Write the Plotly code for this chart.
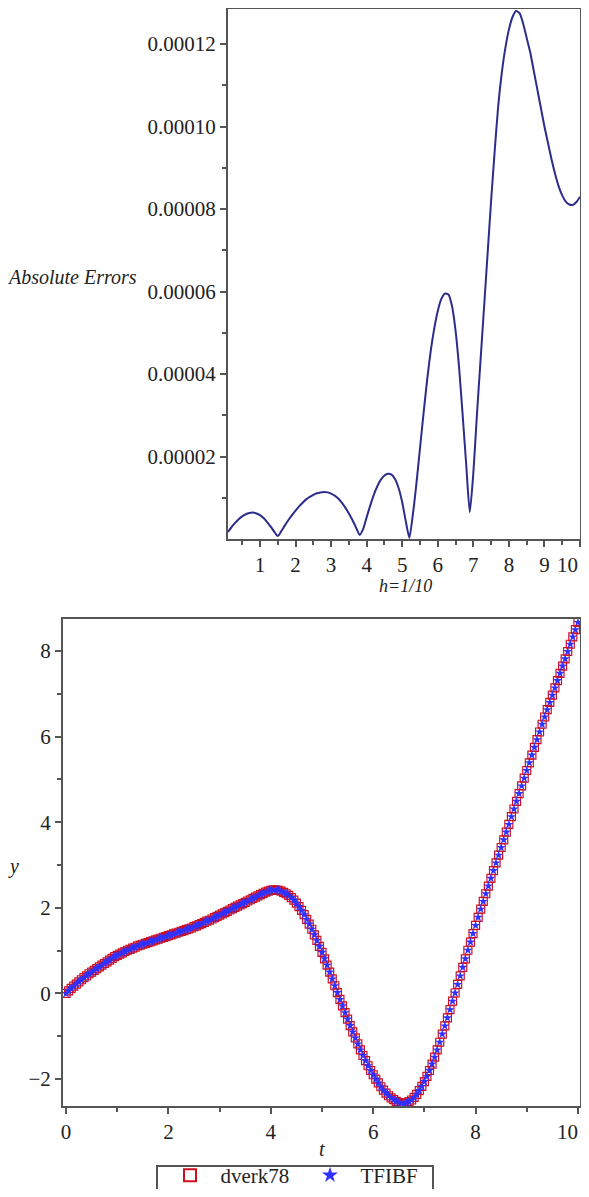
import plotly.graph_objects as go

# ---------------- data ----------------
# Top panel: absolute errors, h = 1/10, t = 0.1 ... 10.0
err_t = [round(0.1 * i, 1) for i in range(1, 101)]
err_vals_e6 = [
    1.7, 2.9, 3.9, 4.8, 5.5, 6.0, 6.3, 6.4, 6.2, 5.8,
    5.1, 4.1, 3.0, 1.8, 0.7, 1.9, 3.3, 4.6, 5.8, 6.9,
    7.9, 8.8, 9.6, 10.2, 10.7, 11.1, 11.3, 11.4, 11.3, 11.0,
    10.5, 9.8, 8.8, 7.6, 6.2, 4.6, 2.8, 1.0, 2.4, 5.3,
    8.1, 10.7, 12.8, 14.4, 15.4, 15.8, 15.6, 14.5, 12.3, 8.9,
    4.3, 0.3, 6.0, 13.5, 22.0, 30.5, 38.5, 45.5, 51.0, 55.3,
    58.2, 59.5, 59.3, 56.5, 50.5, 41.5, 30.0, 18.0, 6.5, 16.0,
    30.0, 43.0, 56.0, 69.0, 82.0, 94.0, 105.0, 113.0, 119.0, 123.5,
    126.5, 128.0, 127.5, 125.0, 121.5, 118.0, 113.5, 109.0, 104.5, 100.0,
    96.0, 92.0, 88.5, 85.5, 83.3, 81.8, 81.1, 81.0, 81.7, 83.0,
]
err_vals = [v * 1e-6 for v in err_vals_e6]
err_tickvals = [0.00002, 0.00004, 0.00006, 0.00008, 0.00010, 0.00012]
err_ticktext = ["0.00002", "0.00004", "0.00006", "0.00008", "0.00010", "0.00012"]
err_xticks = [1, 2, 3, 4, 5, 6, 7, 8, 9, 10]

# Bottom panel: solution y(t), t = 0 ... 10 step 0.05
sol_t = [round(0.05 * i, 2) for i in range(0, 201)]
sol_y = [
    0.00, 0.06, 0.12, 0.17, 0.22, 0.27, 0.32, 0.37, 0.41, 0.46,
    0.50, 0.54, 0.58, 0.62, 0.66, 0.70, 0.74, 0.78, 0.82, 0.86,
    0.89, 0.92, 0.95, 0.98, 1.01, 1.03, 1.06, 1.08, 1.11, 1.13,
    1.15, 1.17, 1.19, 1.21, 1.23, 1.25, 1.27, 1.29, 1.31, 1.33,
    1.35, 1.37, 1.39, 1.41, 1.43, 1.45, 1.47, 1.49, 1.51, 1.53,
    1.56, 1.58, 1.61, 1.63, 1.66, 1.69, 1.71, 1.74, 1.77, 1.80,
    1.83, 1.86, 1.89, 1.92, 1.95, 1.98, 2.01, 2.04, 2.07, 2.10,
    2.13, 2.16, 2.19, 2.22, 2.25, 2.28, 2.31, 2.34, 2.37, 2.39,
    2.41, 2.42, 2.42, 2.41, 2.39, 2.36, 2.33, 2.29, 2.24, 2.18,
    2.11, 2.03, 1.94, 1.84, 1.73, 1.62, 1.50, 1.37, 1.24, 1.10,
    0.96, 0.81, 0.66, 0.50, 0.34, 0.18, 0.02, -0.14, -0.29, -0.45,
    -0.60, -0.75, -0.90, -1.04, -1.18, -1.32, -1.45, -1.57, -1.69, -1.80,
    -1.90, -2.00, -2.09, -2.18, -2.26, -2.33, -2.39, -2.44, -2.48, -2.52,
    -2.55, -2.56, -2.57, -2.56, -2.53, -2.49, -2.43, -2.36, -2.27, -2.17,
    -2.06, -1.94, -1.80, -1.65, -1.49, -1.32, -1.14, -0.95, -0.76, -0.57,
    -0.38, -0.18, 0.01, 0.21, 0.41, 0.61, 0.81, 1.01, 1.20, 1.40,
    1.59, 1.78, 1.97, 2.15, 2.33, 2.51, 2.69, 2.87, 3.05, 3.23,
    3.41, 3.59, 3.77, 3.95, 4.13, 4.31, 4.49, 4.67, 4.85, 5.03,
    5.21, 5.39, 5.57, 5.75, 5.93, 6.11, 6.29, 6.46, 6.63, 6.80,
    6.97, 7.14, 7.31, 7.48, 7.65, 7.82, 7.99, 8.16, 8.33, 8.50,
    8.67,
]
sol_xticks = [0, 2, 4, 6, 8, 10]
sol_yticks = [-2, 0, 2, 4, 6, 8]
legend_names = ["dverk78", "TFIBF"]

# ---------------- figure ----------------
PAGE_W, PAGE_H = 589, 1197
BODY = 8  # default body margin of the html page
W, H = PAGE_W - 2 * BODY, PAGE_H - 2 * BODY
FONT = "Liberation Serif"
AX = "#555555"
TXT = "#222222"
PAD = "\u00a0\u00a0"


def px_x(p):
    return (p - BODY) / W


def px_y(p):
    return 1 - (p - BODY) / H


def dom(a, b):
    return [max(0.0, min(1.0, a)), max(0.0, min(1.0, b))]


# the last x label sits on the right page edge: draw it right-aligned so it stays visible
err_xtext = [str(v) for v in err_xticks[:-1]] + [""]
sol_xtext = [str(v) for v in sol_xticks[:-1]] + [""]

fig = go.Figure()

fig.add_trace(go.Scatter(
    x=err_t, y=err_vals, mode="lines",
    line=dict(color="#2c2c8c", width=2, shape="spline", smoothing=0.6),
    xaxis="x", yaxis="y", showlegend=False, hoverinfo="skip",
))

fig.add_trace(go.Scatter(
    x=sol_t, y=sol_y, mode="markers", name=PAD + legend_names[0],
    marker=dict(symbol="square-open", size=8, color="#d01020", line=dict(width=1.2, color="#d01020")),
    xaxis="x2", yaxis="y2",
))
fig.add_trace(go.Scatter(
    x=sol_t, y=sol_y, mode="markers", name=PAD + legend_names[1],
    marker=dict(symbol="star", size=7, color="#3030ff", line=dict(width=0)),
    xaxis="x2", yaxis="y2",
))

common = dict(showgrid=False, zeroline=False, showline=True, linecolor=AX, linewidth=2,
              mirror=True, ticks="outside", tickcolor=AX, ticklen=6, tickwidth=1.5,
              ticklabeloverflow="allow",
              tickfont=dict(family=FONT, size=21, color=TXT))

fig.update_layout(
    width=W, height=H,
    margin=dict(l=0, r=0, t=0, b=0, autoexpand=False),
    paper_bgcolor="white", plot_bgcolor="white",
    xaxis=dict(domain=dom(px_x(228), px_x(580)), range=[0.1, 10], anchor="y",
               tickvals=err_xticks, ticktext=err_xtext,
               minor=dict(tickvals=[0.5, 1.5, 2.5, 3.5, 4.5, 5.5, 6.5, 7.5, 8.5, 9.5],
                          ticks="outside", ticklen=4, tickcolor=AX),
               **common),
    yaxis=dict(domain=dom(px_y(539), px_y(9)), range=[0, 0.0001285], anchor="x",
               tickvals=err_tickvals, ticktext=err_ticktext,
               minor=dict(tickvals=[0.00001, 0.00003, 0.00005, 0.00007, 0.00009, 0.00011],
                          ticks="outside", ticklen=4, tickcolor=AX),
               **common),
    xaxis2=dict(domain=dom(px_x(63), px_x(580)), range=[-0.06, 10.04], anchor="y2",
                tickvals=sol_xticks, ticktext=sol_xtext,
                minor=dict(tickvals=[1, 3, 5, 7, 9], ticks="outside", ticklen=4, tickcolor=AX),
                **common),
    yaxis2=dict(domain=dom(px_y(1106), px_y(619)), range=[-2.63, 8.75], anchor="x2",
                tickvals=sol_yticks,
                minor=dict(tickvals=[-1, 1, 3, 5, 7], ticks="outside", ticklen=4, tickcolor=AX),
                **common),
    legend=dict(orientation="h", x=px_x(170), xanchor="left", y=px_y(1155), yanchor="top",
                bgcolor="rgba(0,0,0,0)", borderwidth=0,
                entrywidth=95, entrywidthmode="pixels",
                font=dict(family=FONT, size=21, color=TXT),
                itemsizing="constant"),
    shapes=[
        dict(type="rect", xref="paper", yref="paper",
             x0=px_x(157), x1=px_x(433), y0=px_y(1215), y1=px_y(1166),
             line=dict(color=AX, width=2), fillcolor="white", layer="above"),
    ],
    annotations=[
        dict(text="<i>Absolute Errors</i>", x=px_x(72), y=px_y(277), xref="paper", yref="paper",
             xanchor="center", yanchor="middle",
             showarrow=False, font=dict(family=FONT, size=20, color=TXT)),
        dict(text="<i>h=1/10</i>", x=px_x(405), y=px_y(586), xref="paper", yref="paper",
             xanchor="center", yanchor="middle",
             showarrow=False, font=dict(family=FONT, size=18, color=TXT)),
        dict(text="<i>y</i>", x=px_x(13), y=px_y(866), xref="paper", yref="paper",
             xanchor="center", yanchor="middle",
             showarrow=False, font=dict(family=FONT, size=20, color=TXT)),
        dict(text="<i>t</i>", x=px_x(322), y=px_y(1149), xref="paper", yref="paper",
             xanchor="center", yanchor="middle",
             showarrow=False, font=dict(family=FONT, size=20, color=TXT)),
        dict(text=str(err_xticks[-1]), x=1.0, y=px_y(565), xref="paper", yref="paper",
             xanchor="right", yanchor="middle", xshift=-1,
             showarrow=False, font=dict(family=FONT, size=21, color=TXT)),
        dict(text=str(sol_xticks[-1]), x=1.0, y=px_y(1132), xref="paper", yref="paper",
             xanchor="right", yanchor="middle", xshift=-1,
             showarrow=False, font=dict(family=FONT, size=21, color=TXT)),
    ],
)

fig.write_html("out.html")
